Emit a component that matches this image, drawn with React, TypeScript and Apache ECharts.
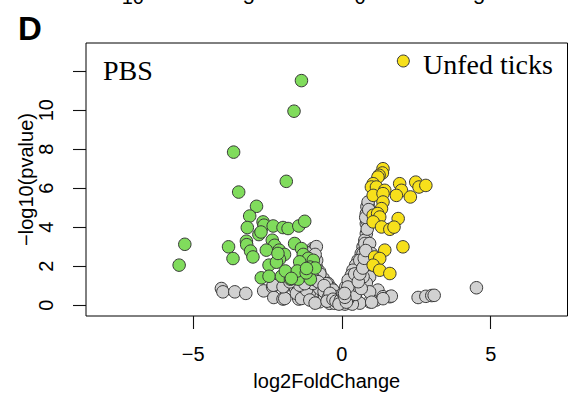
import React, { useEffect, useRef } from "react";
import * as echarts from "echarts";

// significant down-regulated (green)
const downPoints: number[][] = [
  [-1.36, 11.52], [-1.61, 9.95], [-3.64, 7.85], [-1.87, 6.35], [-3.47, 5.8], [-2.87, 5.07],
  [-3.1, 4.57], [-3.18, 3.98], [-2.65, 4.27], [-2.62, 4.1], [-2.31, 4.06], [-1.98, 3.98],
  [-1.81, 3.93], [-1.45, 4.06], [-1.25, 4.3], [-2.79, 3.62], [-2.72, 3.75], [-3.21, 3.28],
  [-3.2, 3.1], [-2.34, 3.33], [-2.26, 3.07], [-2.54, 2.82], [-3.07, 2.77], [-2.99, 2.47],
  [-5.28, 3.12], [-5.47, 2.05], [-3.81, 2.99], [-3.66, 2.39], [-2.11, 2.82], [-1.93, 2.6],
  [-2.1, 2.35], [-1.59, 3.16], [-1.36, 2.9], [-1.3, 2.6], [-1.13, 2.4], [-1.42, 2.22],
  [-2.45, 2.05], [-2.2, 2.2], [-0.96, 2.3], [-1.07, 1.95], [-2.71, 1.4], [-2.45, 1.48],
  [-2.03, 1.48], [-1.73, 1.33], [-1.47, 1.33], [-1.06, 1.33], [-1.9, 1.75], [-1.5, 1.75],
  [-1.2, 1.65], [-0.9, 1.9], [-2.15, 2.65], [-1.19, 1.88], [-1.7, 1.37]
];

// significant up-regulated (yellow)
const upPoints: number[][] = [
  [1.38, 7.0], [1.36, 6.78], [1.25, 6.66], [1.21, 6.57], [1.05, 6.23], [0.99, 6.06],
  [1.16, 6.06], [1.44, 5.89], [1.05, 5.63], [1.38, 5.72], [1.94, 6.23], [2.0, 5.89],
  [1.83, 5.63], [2.3, 5.55], [2.48, 6.31], [2.59, 6.06], [2.82, 6.14], [1.38, 5.29],
  [1.33, 4.95], [1.05, 4.61], [1.2, 4.7], [1.27, 4.52], [1.89, 4.44], [1.05, 4.27],
  [1.33, 4.01], [1.61, 3.89], [1.75, 4.0], [2.05, 2.99], [1.44, 2.82], [1.1, 2.47],
  [1.27, 2.39], [1.05, 2.05], [1.27, 1.79], [1.61, 1.62]
];

// not significant (gray)
const nsPoints: number[][] = [
  [-4.05, 0.85], [-4.0, 0.68], [-3.6, 0.68], [-3.23, 0.6], [-2.63, 0.73], [-2.33, 0.93],
  [-2.29, 0.39], [-1.95, 0.93], [-1.98, 0.31], [-1.56, 0.85], [-1.45, 0.31], [-1.1, 0.6],
  [-2.31, 1.02], [-1.92, 0.34], [-1.98, 0.94], [-1.53, 0.6], [-1.36, 0.34], [-1.19, 0.77],
  [-1.08, 0.26], [-0.75, 0.17], [-0.58, 0.43], [-0.41, 0.09], [-0.24, 0.09], [-0.75, 0.85],
  [-0.97, 1.11], [-1.42, 1.02], [-1.75, 1.19], [-0.9, 0.1],
  [-0.98, 2.9], [-0.91, 2.9], [-1.08, 2.65], [-0.97, 2.39], [-0.86, 1.96], [-0.75, 1.71],
  [-0.63, 1.37], [-0.47, 1.11], [-0.35, 0.85], [-0.24, 0.6], [-0.13, 0.34], [-0.85, 2.3],
  [-0.74, 1.6], [-0.52, 1.1], [-0.3, 0.77], [-0.19, 0.43], [-0.86, 3.0], [-1.2, 2.7],
  [-1.3, 2.2], [-1.1, 1.5], [-0.6, 0.7], [-0.9, 1.3], [-0.45, 0.4], [-1.25, 1.1],
  [-1.0, 2.0], [-0.9, 2.6], [-1.15, 2.2], [-0.8, 1.2], [-0.6, 1.0], [-0.4, 0.6],
  [-0.5, 0.2], [-0.3, 0.3], [-0.2, 0.2], [-0.05, 0.25],
  [-0.02, 0.09], [0.04, 0.6], [0.13, 0.94], [0.26, 0.17], [0.49, 0.26], [0.93, 0.17],
  [1.15, 0.26], [0.1, 0.05], [-0.1, 0.05], [0.6, 0.1], [0.35, 0.05],
  [0.2, 0.3], [0.3, 0.5], [0.4, 0.8], [0.15, 0.15], [0.45, 0.55], [0.1, 0.4],
  [0.3, 1.1], [0.5, 1.0],
  [0.88, 5.12], [0.82, 4.69], [0.82, 4.18], [0.82, 3.67], [0.77, 3.33], [0.71, 2.99],
  [0.65, 2.65], [0.54, 2.3], [0.46, 2.05], [0.37, 1.79], [0.32, 1.54], [0.21, 1.28],
  [0.84, 5.05], [0.88, 5.29], [0.84, 4.35], [0.77, 3.16], [0.71, 2.64], [0.6, 2.3],
  [0.43, 1.6], [0.2, 0.93], [0.09, 0.6], [0.93, 3.16], [0.99, 2.65], [1.05, 1.96],
  [0.93, 1.45], [0.82, 1.13], [0.71, 1.45], [1.21, 0.77], [1.38, 0.43], [1.61, 0.43],
  [0.93, 0.68], [0.65, 0.85], [1.66, 0.46], [1.38, 0.33], [1.0, 0.15], [0.55, 1.2],
  [0.75, 2.0], [0.6, 1.6], [0.7, 1.9], [0.75, 2.4], [0.8, 2.8], [0.85, 3.9],
  [0.8, 4.5], [0.9, 4.9],
  [2.56, 0.39], [2.82, 0.45], [3.02, 0.49], [3.1, 0.5], [4.52, 0.89]
];

const xTicks = [-5, 0, 5];
const yTicks = [0, 2, 4, 6, 8, 10, 12];
const yLabels = [0, 2, 4, 6, 8, 10];
const topCutLabels = ["−10", "−5", "0", "5"];
const topCutX = [127, 243, 360, 479];

const SANS = "'Liberation Sans', Arial, Helvetica, sans-serif";
const SERIF = "'Liberation Serif', 'Times New Roman', serif";

const fmt = (v: number) => (v < 0 ? "−" + Math.abs(v) : String(v));

export default function App() {
  const ref = useRef<HTMLDivElement>(null);
  useEffect(() => {
    document.body.style.margin = "0";
    if (!ref.current) return;
    const chart = echarts.init(ref.current, undefined, { renderer: "svg" });
    const pointStyle = (color: string) => ({
      color,
      borderColor: "#383838",
      borderWidth: 1,
      opacity: 1,
    });
    const tickStyle = { color: "#111111", width: 1.1 };
    const axisBase = {
      type: "value",
      nameLocation: "middle",
      nameMoveOverlap: false,
      nameTextStyle: { fontFamily: SANS, fontSize: 20, color: "#000" },
      axisLine: { show: false, onZero: false },
      splitLine: { show: false },
    };
    chart.setOption({
      animation: false,
      backgroundColor: "#ffffff",
      grid: {
        left: 86,
        right: 1.5,
        top: 43,
        bottom: 81,
        show: true,
        borderColor: "#000",
        borderWidth: 1,
        backgroundColor: "transparent",
      },
      xAxis: {
        ...axisBase,
        position: "bottom",
        min: -8.6,
        max: 7.58,
        name: "log2FoldChange",
        nameGap: 55,
        axisTick: {
          show: true,
          length: 13,
          inside: false,
          customValues: xTicks,
          lineStyle: tickStyle,
        },
        axisLabel: {
          customValues: xTicks,
          margin: 28,
          fontFamily: SANS,
          fontSize: 20,
          color: "#000",
          formatter: (v: number) => fmt(v),
        },
      },
      yAxis: {
        ...axisBase,
        position: "left",
        min: -0.56,
        max: 13.45,
        name: "−log10(pvalue)",
        nameGap: 50,
        axisTick: {
          show: true,
          length: 13,
          inside: false,
          customValues: yTicks,
          lineStyle: tickStyle,
        },
        axisLabel: {
          customValues: yLabels,
          rotate: 90,
          margin: 30,
          fontFamily: SANS,
          fontSize: 20,
          color: "#000",
          formatter: (v: number) => fmt(v),
        },
      },
      series: [
        {
          type: "scatter",
          name: "Not significant",
          data: nsPoints,
          symbol: "circle",
          symbolSize: 12.5,
          itemStyle: pointStyle("#d1d1d1"),
          z: 2,
        },
        {
          type: "scatter",
          name: "PBS",
          data: downPoints,
          symbol: "circle",
          symbolSize: 12.5,
          itemStyle: pointStyle("#80dc5c"),
          z: 3,
        },
        {
          type: "scatter",
          name: "Unfed ticks",
          data: upPoints,
          symbol: "circle",
          symbolSize: 12.5,
          itemStyle: pointStyle("#f7e01b"),
          z: 3,
        },
      ],
      graphic: [
        {
          type: "text",
          left: 18,
          top: 12,
          style: {
            text: "D",
            fontFamily: SANS,
            fontWeight: "bold",
            fontSize: 33,
            fill: "#000",
          },
        },
        ...topCutLabels.map((t, i) => ({
          type: "text",
          x: topCutX[i],
          y: -3.5,
          style: {
            text: t,
            fontFamily: SANS,
            fontSize: 20,
            fill: "#000",
            align: "center",
            verticalAlign: "middle",
          },
        })),
        {
          type: "text",
          x: 103,
          y: 70,
          style: {
            text: "PBS",
            fontFamily: SERIF,
            fontSize: 28,
            fill: "#000",
            align: "left",
            verticalAlign: "middle",
          },
        },
        {
          type: "circle",
          shape: { cx: 403.3, cy: 61, r: 6 },
          style: { fill: "#f7e01b", stroke: "#383838", lineWidth: 1 },
        },
        {
          type: "text",
          x: 423,
          y: 64,
          style: {
            text: "Unfed ticks",
            fontFamily: SERIF,
            fontSize: 28,
            fill: "#000",
            align: "left",
            verticalAlign: "middle",
          },
        },
      ],
    });
    return () => chart.dispose();
  }, []);
  return <div ref={ref} style={{ width: 569, height: 397 }} />;
}
